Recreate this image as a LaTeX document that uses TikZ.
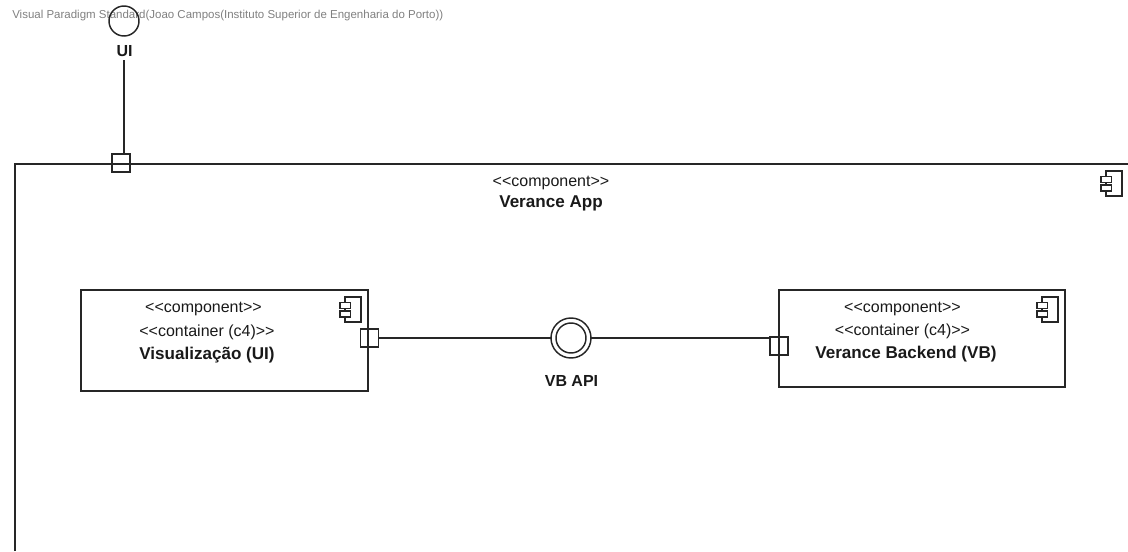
\documentclass[tikz,border=0pt]{standalone}
\usepackage{fontspec}
\setmainfont{Liberation Sans}
\tikzset{
  ln/.style={draw=black!85,line width=1.1pt},
  portbox/.style={ln,fill=none,rectangle,minimum width=13.5pt,minimum height=13.5pt,inner sep=0pt,outer sep=0pt},
  lbl/.style={inner sep=0pt,font=\fontsize{12}{14}\selectfont,text=black!90},
  blbl/.style={lbl,font=\fontsize{12.8}{14}\selectfont\bfseries},
  apilbl/.style={lbl,font=\fontsize{12}{14}\selectfont\bfseries},
  wm/.style={inner sep=0pt,anchor=west,font=\fontsize{8.62}{10}\selectfont,text=black!50},
  thin ln/.style={draw=black!85,line width=0.9pt}
}
\newcommand{\compicon}[2]{%
  \draw[thin ln] (#1+5,#2+5.5) -- (#1+5,#2) -- (#1+21,#2) -- (#1+21,#2+25) -- (#1+5,#2+25) -- (#1+5,#2+20);
  \draw[thin ln] (#1+5,#2+11.5) -- (#1+5,#2+14);
  \draw[thin ln] (#1,#2+5.5) rectangle (#1+10.5,#2+11.5);
  \draw[thin ln] (#1,#2+14) rectangle (#1+10.5,#2+20);
}
\begin{document}
\begin{tikzpicture}[x=0.75pt,y=-0.75pt]
\useasboundingbox (0,0) rectangle (1128,551);
\node[wm] (mark) at (12,15.5) {Visual Paradigm Standard(Joao Campos(Instituto Superior de Engenharia do Porto))};
% outer component
\coordinate (ob) at (15,551);
\coordinate (ot) at (15,164);
\coordinate (oe) at (1128,164);
\draw[ln] (ob) -- (ot) -- (oe);
\node[portbox] (uiport) at (121,163) {};
\node[ln,circle,minimum size=22.5pt,inner sep=0pt,outer sep=0pt] (uic) at (124,21) {};
\node[apilbl] (uil) at (124.5,51.5) {UI};
\coordinate (uilb) at (124,60);
\coordinate (uit) at (124,37);
\draw[draw=black!60,line width=0.6pt] (uic.south) -- (uit);
\draw[ln] (uilb) -- (uilb |- uiport.north);
\node[lbl] (o1) at (551,183) {<{}<component>{}>};
\node[blbl] (o2) at (551,203) {Verance App};
\compicon{1101}{171}
% left box
\node[ln,rectangle,minimum width=215.25pt,minimum height=75.75pt,inner sep=0pt,outer sep=0pt] (vis) at (224.5,340.5) {};
\node[lbl] (v1) at (203.5,308.5) {<{}<component>{}>};
\node[lbl] (v2) at (207,332.5) {<{}<container (c4)>{}>};
\node[blbl] (v3) at (207,355) {Visualização (UI)};
\compicon{340}{297}
\node[portbox] (vport) at (369.5,338) {};
% right box
\node[ln,rectangle,minimum width=214.5pt,minimum height=72.75pt,inner sep=0pt,outer sep=0pt] (vb) at (922,338.5) {};
\node[lbl] (b1) at (902.5,308.5) {<{}<component>{}>};
\node[lbl] (b2) at (902.5,331.5) {<{}<container (c4)>{}>};
\node[blbl] (b3) at (906,354) {Verance Backend (VB)};
\compicon{1037}{297}
\node[portbox] (bport) at (779,346) {};
% interface
\node[ln,circle,minimum size=30pt,inner sep=0pt,outer sep=0pt] (api) at (571,338) {};
\node[ln,circle,minimum size=22.5pt,inner sep=0pt,outer sep=0pt] (apii) at (571,338) {};
\node[apilbl] (apil) at (571.5,381) {VB API};
\draw[ln] (vport.east) -- (api.west);
\draw[ln] (api.east) -- (bport.north west |- api.east);
\end{tikzpicture}
\end{document}
